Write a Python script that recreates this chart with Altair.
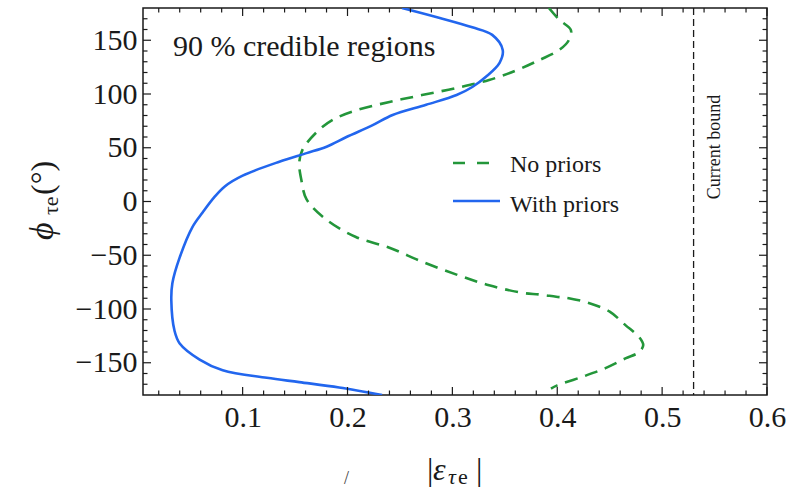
import altair as alt
import pandas as pd

# ---- data ----
with_x = [0.252, 0.288, 0.319, 0.338, 0.348, 0.345, 0.332, 0.319, 0.304, 0.275,
          0.243, 0.224, 0.199, 0.180, 0.161, 0.135, 0.100, 0.083, 0.073, 0.062,
          0.052, 0.040, 0.033, 0.032, 0.035, 0.040, 0.059, 0.081, 0.123, 0.154,
          0.192, 0.233]
with_y = [180, 170.7, 162, 155, 141, 129, 116, 106.5, 99, 90,
          80.5, 71, 60, 51, 45, 37, 24, 14, 4, -10,
          -24, -52, -76, -92, -120, -132, -147, -157, -164, -168,
          -173, -180]

no_x = [0.392, 0.402, 0.413, 0.411, 0.402, 0.383, 0.361, 0.335, 0.304, 0.271,
        0.240, 0.209, 0.186, 0.170, 0.157, 0.154, 0.156, 0.161, 0.180, 0.208,
        0.240, 0.271, 0.304, 0.335, 0.367, 0.383, 0.399, 0.411, 0.430, 0.450,
        0.465, 0.478, 0.482, 0.478, 0.465, 0.446, 0.424, 0.400, 0.394]
no_y = [180, 169, 159.5, 150, 141, 131.6, 122, 113, 105.6, 99,
        92.6, 85, 76, 64, 48, 36, 20, 2, -17, -33,
        -43, -56, -68, -78, -85, -86.5, -88.6, -90, -94.4, -102.5,
        -115, -126, -133.5, -140, -146, -155, -163, -171, -174]

current_bound = [0.53]

x_major = [0.1, 0.2, 0.3, 0.4, 0.5, 0.6]
x_minor = [0.02, 0.04, 0.06, 0.08, 0.12, 0.14, 0.16, 0.18, 0.22, 0.24, 0.26, 0.28,
           0.32, 0.34, 0.36, 0.38, 0.42, 0.44, 0.46, 0.48, 0.52, 0.54, 0.56, 0.58]
y_major = [-150, -100, -50, 0, 50, 100, 150]
y_minor = [-170, -160, -140, -130, -120, -110, -90, -80, -70, -60, -40, -30, -20, -10,
           10, 20, 30, 40, 60, 70, 80, 90, 110, 120, 130, 140, 160, 170]

W, H = 624, 387
FONT = "Liberation Serif"
INK = "#1a1a1a"
GREEN = "#23963a"
BLUE = "#2266ee"
TICK_FS = 30

xs = alt.Scale(domain=[0.005, 0.6], nice=False, zero=False)
ys = alt.Scale(domain=[-180, 180], nice=False, zero=False)

x_axis = alt.Axis(values=x_major, format=".1f", ticks=False, domain=False, grid=False,
                  labelPadding=7, labelFlush=False, title="",
                  labelFont=FONT, labelFontSize=TICK_FS, labelColor=INK)
y_axis = alt.Axis(values=y_major, format="d", ticks=False, domain=False, grid=False,
                  labelPadding=6, title="",
                  labelFont=FONT, labelFontSize=TICK_FS, labelColor=INK)

with_df = pd.DataFrame({"x": with_x, "y": with_y, "i": range(len(with_x))})
no_df = pd.DataFrame({"x": no_x, "y": no_y, "i": range(len(no_x))})
one = pd.DataFrame({"a": [0]})

no_line = alt.Chart(no_df).mark_line(
    interpolate="catmull-rom", color=GREEN, strokeWidth=2.6, strokeDash=[13, 8], clip=True
).encode(
    x=alt.X("x:Q", scale=xs, axis=x_axis),
    y=alt.Y("y:Q", scale=ys, axis=y_axis),
    order=alt.Order("i:Q"),
)
with_line = alt.Chart(with_df).mark_line(
    interpolate="catmull-rom", color=BLUE, strokeWidth=2.6, clip=True
).encode(
    x=alt.X("x:Q", scale=xs, axis=x_axis),
    y=alt.Y("y:Q", scale=ys, axis=y_axis),
    order=alt.Order("i:Q"),
)
bound = alt.Chart(pd.DataFrame({"b": current_bound})).mark_rule(
    color=INK, strokeWidth=1.3, strokeDash=[7, 4]
).encode(x=alt.X("b:Q", scale=xs, axis=x_axis))


def xticks(vals, length):
    d = pd.DataFrame({"t": vals})
    bottom = alt.Chart(d).mark_rule(color=INK, strokeWidth=1.2).encode(
        x=alt.X("t:Q", scale=xs, axis=x_axis), y=alt.value(H), y2=alt.value(H - length))
    top = alt.Chart(d).mark_rule(color=INK, strokeWidth=1.2).encode(
        x=alt.X("t:Q", scale=xs, axis=x_axis), y=alt.value(0), y2=alt.value(length))
    return [bottom, top]


def yticks(vals, length):
    d = pd.DataFrame({"t": vals})
    left = alt.Chart(d).mark_rule(color=INK, strokeWidth=1.2).encode(
        y=alt.Y("t:Q", scale=ys, axis=y_axis), x=alt.value(0), x2=alt.value(length))
    right = alt.Chart(d).mark_rule(color=INK, strokeWidth=1.2).encode(
        y=alt.Y("t:Q", scale=ys, axis=y_axis), x=alt.value(W), x2=alt.value(W - length))
    return [left, right]


def label(text, x, y, size, style="normal", angle=0, align="left",
          baseline="alphabetic", color=INK):
    return alt.Chart(one).mark_text(
        text=text, font=FONT, fontSize=size, fontStyle=style, angle=angle,
        align=align, baseline=baseline, color=color
    ).encode(x=alt.value(x), y=alt.value(y))


legend = [
    alt.Chart(one).mark_rule(color=GREEN, strokeWidth=2.6, strokeDash=[12, 12]).encode(
        x=alt.value(310), x2=alt.value(346), y=alt.value(155)),
    alt.Chart(one).mark_rule(color=BLUE, strokeWidth=2.6).encode(
        x=alt.value(310), x2=alt.value(357), y=alt.value(193)),
    label("No priors", 367, 164, 24),
    label("With priors", 367, 204, 24),
]

texts = [
    label("90 % credible regions", 30, 48, 30),
    label("Current bound", 577, 139, 18, angle=270, align="center"),
    # y axis title: phi_{tau e} (deg)
    label("ϕ", -90, 232, 34, style="italic", angle=270),
    label("τe", -85, 207, 22, angle=270),
    label("(°)", -90, 187, 32, angle=270),
    # x axis title: |epsilon_{tau e}|
    label("|", 284, 472, 32),
    label("ε", 290, 472, 32, style="italic"),
    label("τ", 305, 476, 22, style="italic"),
    label("e", 315, 476, 22),
    label("|", 333, 472, 32),
    label("/", 201, 476, 18, color="#444"),
]

layers = [no_line, with_line, bound] + xticks(x_major, 8) + xticks(x_minor, 4.5) \
    + yticks(y_major, 8) + yticks(y_minor, 4.5) + legend + texts

chart = alt.layer(*layers).properties(
    width=W, height=H,
    autosize="none",
    padding={"left": 143, "top": 8, "right": 32, "bottom": 95},
    background="white",
).configure_view(
    stroke=INK, strokeWidth=1.5
).configure_axis(
    labelFont=FONT, labelFontSize=TICK_FS, labelColor=INK
)

chart.save("out.html", embed_options={"renderer": "svg", "actions": False})
